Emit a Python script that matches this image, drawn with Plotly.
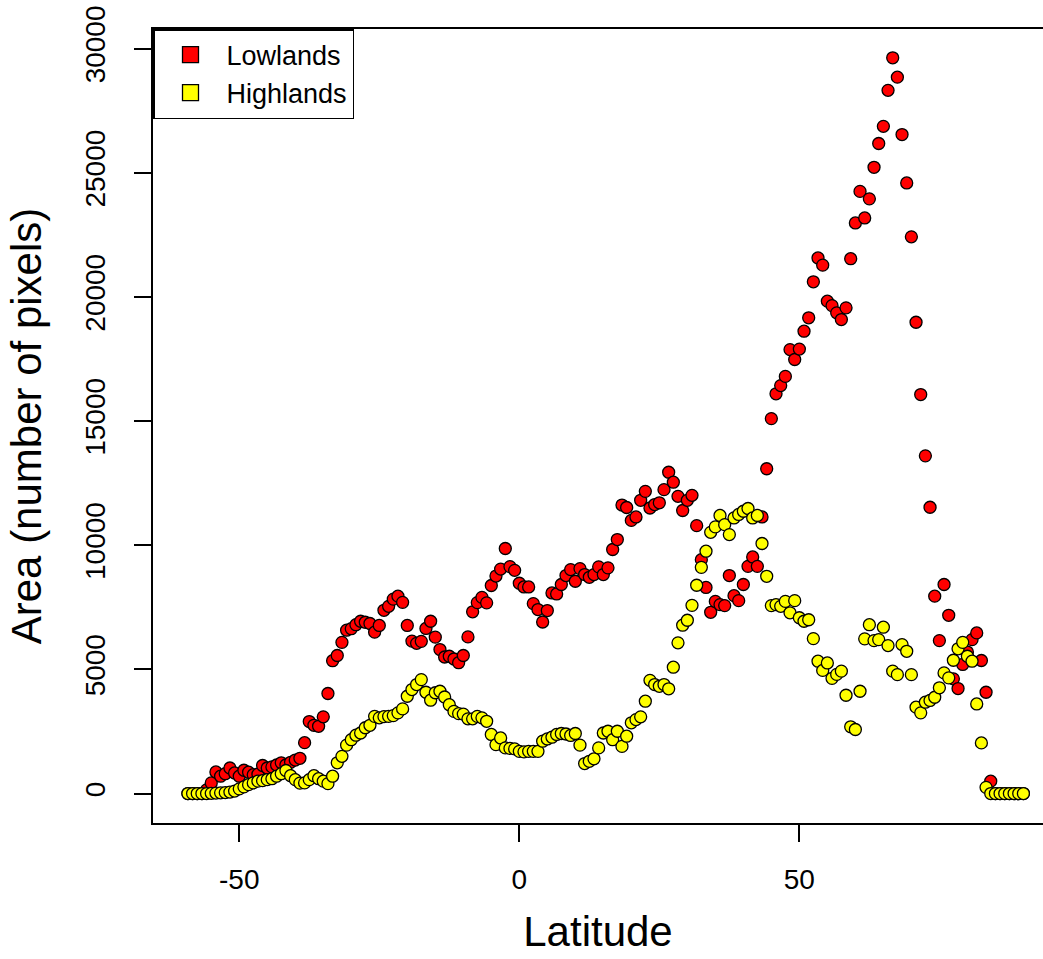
import plotly.graph_objects as go

# Latitude bins (5/6 degree bins from -60 to 90, labelled by upper edge)
lat_start = -60.0
lat_step = 5.0 / 6.0
n_bins = 180
lat = [round(lat_start + lat_step * (k + 1), 3) for k in range(n_bins)]

lowlands = [
    0, 0, 0, 0, 150, 430, 870, 700, 800, 1030,
    830, 700, 940, 860, 760, 780, 1130, 1030, 1075, 1150,
    1240, 1150, 1260, 1350, 1420, 2050, 2900, 2750, 2710, 3090,
    4030, 5350, 5560, 6090, 6580, 6640, 6800, 6940, 6900, 6850,
    6500, 6770, 7380, 7540, 7830, 7950, 7700, 6770, 6140, 6050,
    6130, 6650, 6940, 6300, 5800, 5500, 5530, 5420, 5270, 5560,
    6310, 7320, 7690, 7900, 7680, 8380, 8760, 9040, 9870, 9140,
    8990, 8470, 8320, 8320, 7650, 7410, 6910, 7370, 8080, 8040,
    8420, 8780, 9020, 8550, 9060, 8820, 8710, 8820, 9130, 8820,
    9090, 9830, 10230, 11620, 11520, 11000, 11140, 11810, 12170, 11500,
    11640, 11710, 12240, 12940, 12540, 11970, 11400, 11810, 12010, 10790,
    9420, 8300, 7300, 7740, 7610, 7570, 8780, 7970, 7770, 8420,
    9150, 9530, 9150, 11140, 13080, 15100, 16100, 16430, 16800, 17880,
    17480, 17900, 18620, 19160, 20610, 21570, 21280, 19830, 19650, 19360,
    19090, 19560, 21540, 22980, 24250, 23180, 23950, 25220, 26180, 26870,
    28320, 29630, 28850, 26540, 24590, 22420, 18980, 16070, 13600, 11530,
    7950, 6160, 8420, 7180, 4620, 4230, 5200, 5700, 6200, 6470,
    5360, 4080, 500, 0, 0, 0, 0, 0, 0, 0,
]

highlands = [
    0, 0, 0, 0, 0, 10, 20, 30, 40, 60,
    100, 190, 270, 360, 430, 500, 520, 560, 600, 700,
    800, 930, 720, 560, 420, 430, 560, 720, 600, 500,
    400, 700, 1240, 1500, 1950, 2170, 2350, 2440, 2650, 2750,
    3110, 3050, 3100, 3110, 3140, 3250, 3410, 3920, 4190, 4390,
    4590, 4080, 3760, 4060, 4120, 3890, 3580, 3310, 3220, 3200,
    3010, 3010, 3110, 3050, 2910, 2380, 1970, 2240, 1840, 1820,
    1800, 1700, 1680, 1700, 1700, 1700, 2110, 2200, 2270, 2380,
    2420, 2400, 2340, 2420, 1950, 1210, 1300, 1400, 1840, 2440,
    2510, 2170, 2510, 1900, 2310, 2850, 2980, 3090, 3720, 4560,
    4390, 4320, 4390, 4220, 5090, 6070, 6780, 6980, 7580, 8390,
    9110, 9760, 10520, 10740, 11200, 10830, 10430, 11100, 11240, 11370,
    11480, 11100, 11200, 10070, 8750, 7570, 7610, 7540, 7740, 7280,
    7770, 7080, 6940, 7000, 6240, 5330, 4960, 5260, 4640, 4800,
    4930, 3960, 2690, 2580, 4120, 6230, 6800, 6160, 6200, 6700,
    5960, 4930, 4790, 6000, 5730, 4790, 3480, 3250, 3680, 3750,
    3880, 4260, 4860, 4660, 5370, 5830, 6090, 5530, 5330, 3610,
    2040, 250, 0, 0, 0, 0, 0, 0, 0, 0,
]

x_tickvals = [-50, 0, 50]
x_ticktext = ["-50", "0", "50"]
y_tickvals = [0, 5000, 10000, 15000, 20000, 25000, 30000]
y_ticktext = ["0", "5000", "10000", "15000", "20000", "25000", "30000"]

series_names = ["Lowlands", "Highlands"]
series_colors = ["#FF0000", "#FFFF00"]

FONT = "Liberation Sans, Arial, Helvetica, sans-serif"

fig = go.Figure()
for name, vals, col in zip(series_names, [lowlands, highlands], series_colors):
    fig.add_trace(go.Scatter(
        x=lat, y=vals, mode="markers", name=name, showlegend=False,
        marker=dict(symbol="circle", size=12, color=col,
                    line=dict(color="black", width=1.3)),
        hoverinfo="x+y",
    ))
# legend entries (filled squares, like R's pch=22)
for name, col in zip(series_names, series_colors):
    fig.add_trace(go.Scatter(
        x=[None], y=[None], mode="markers", name=name, showlegend=True,
        marker=dict(symbol="square", size=18, color=col,
                    line=dict(color="black", width=1.3)),
    ))

fig.update_layout(
    width=1043, height=959,
    margin=dict(l=153, r=0, t=29, b=136),
    paper_bgcolor="white", plot_bgcolor="white",
    font=dict(family=FONT, size=28, color="black"),
    showlegend=True,
    legend=dict(
        x=0, y=1, xanchor="left", yanchor="top",
        bgcolor="white", bordercolor="black", borderwidth=1.5,
        font=dict(family=FONT, size=27, color="black"),
        itemwidth=62, tracegroupgap=0,
    ),
)
fig.update_xaxes(
    range=[-65.4, 93.5], tickvals=x_tickvals, ticktext=x_ticktext,
    ticks="outside", ticklen=17, tickwidth=1.5, tickcolor="black",
    showline=True, linecolor="black", linewidth=1.5, mirror=True,
    showgrid=False, zeroline=False,
    tickfont=dict(family=FONT, size=28), ticklabelstandoff=14,
    title=dict(text="Latitude", font=dict(family=FONT, size=42), standoff=22),
)
fig.update_yaxes(
    range=[-1185, 30790], tickvals=y_tickvals, ticktext=y_ticktext,
    ticks="outside", ticklen=17, tickwidth=1.5, tickcolor="black",
    showline=True, linecolor="black", linewidth=1.5, mirror=False,
    showgrid=False, zeroline=False, tickangle=-90,
    tickfont=dict(family=FONT, size=28), ticklabelstandoff=18,
    title=dict(text="Area (number of pixels)", font=dict(family=FONT, size=42), standoff=25),
)

fig.write_html("out.html")
